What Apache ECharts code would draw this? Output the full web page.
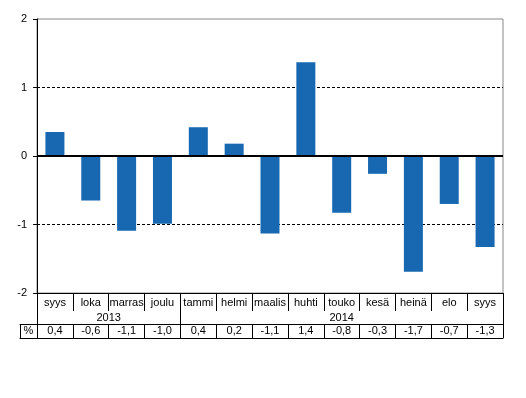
<!DOCTYPE html>
<html>
<head>
<meta charset="utf-8">
<script src="https://cdn.jsdelivr.net/npm/echarts@6/dist/echarts.min.js"></script>
<style>
  html, body { margin: 0; padding: 0; background: #fff; }
</style>
</head>
<body>
<div id="myChart" style="width: 526px; height: 398px;"></div>
<script>
  // kuukaudet ja muutos-%
  var months = ['syys', 'loka', 'marras', 'joulu', 'tammi', 'helmi', 'maalis', 'huhti', 'touko', 'kesä', 'heinä', 'elo', 'syys'];
  var values = [0.35, -0.65, -1.09, -0.99, 0.42, 0.18, -1.13, 1.37, -0.83, -0.26, -1.69, -0.70, -1.33];
  var tableLabels = ['0,4', '-0,6', '-1,1', '-1,0', '0,4', '0,2', '-1,1', '1,4', '-0,8', '-0,3', '-1,7', '-0,7', '-1,3'];
  var years = ['2013', '2014'];
  var yearStarts = [0, 4, 13];
  var yTicks = [-2, -1, 0, 1, 2];

  var font = 'Liberation Sans, Arial, sans-serif';
  var n = months.length;
  // %-solun leveys kategoriayksikköinä (17px / sarakkeen leveys)
  var pctW = 17 / (466 / n);

  var cellTicks = [-pctW];
  var cellLabels = [-pctW / 2];
  for (var i = 0; i <= n; i++) cellTicks.push(i);
  for (var j = 0; j < n; j++) cellLabels.push(j + 0.5);

  var yearLabels = [];
  for (var k = 0; k < years.length; k++) yearLabels.push((yearStarts[k] + yearStarts[k + 1]) / 2);

  var myChart = echarts.init(document.getElementById('myChart'));
  myChart.setOption({
    animation: false,
    textStyle: { fontFamily: font },
    grid: [
      { left: 37, right: 23, top: 19, height: 274, show: true, borderColor: '#888', borderWidth: 1 },
      { left: 20, right: 23, top: 324, height: 14 }
    ],
    xAxis: [
      {
        type: 'category',
        gridIndex: 0,
        data: months,
        position: 'bottom',
        axisLine: { onZero: false, lineStyle: { color: '#000', width: 1 } },
        axisTick: { show: true, interval: 0, length: 18, lineStyle: { color: '#000' } },
        axisLabel: { interval: 0, margin: 4, color: '#000', fontSize: 11, fontFamily: font }
      },
      {
        type: 'value',
        gridIndex: 0,
        min: 0,
        max: n,
        position: 'bottom',
        offset: 18,
        axisLine: { show: false, onZero: false },
        splitLine: { show: false },
        axisTick: { show: true, length: 13, customValues: yearStarts, lineStyle: { color: '#000' } },
        axisLabel: {
          margin: 1, color: '#000', fontSize: 11, fontFamily: font,
          customValues: yearLabels,
          formatter: function (v) { return v < 4 ? years[0] : years[1]; }
        }
      },
      {
        type: 'value',
        gridIndex: 1,
        min: -pctW,
        max: n,
        position: 'top',
        axisLine: { show: true, onZero: false, lineStyle: { color: '#000' } },
        axisTick: { show: false },
        axisLabel: { show: false },
        splitLine: { show: false }
      },
      {
        type: 'value',
        gridIndex: 1,
        min: -pctW,
        max: n,
        position: 'bottom',
        axisLine: { show: true, onZero: false, lineStyle: { color: '#000' } },
        axisTick: { show: true, inside: true, length: 14, customValues: cellTicks, lineStyle: { color: '#000' } },
        splitLine: { show: false },
        axisLabel: {
          inside: true, margin: 2, color: '#000', fontSize: 11, fontFamily: font,
          customValues: cellLabels,
          formatter: function (v) { return v < 0 ? '%' : tableLabels[Math.floor(v)]; }
        }
      }
    ],
    yAxis: [
      {
        type: 'value',
        gridIndex: 0,
        min: yTicks[0],
        max: yTicks[yTicks.length - 1],
        interval: 1,
        axisLine: { show: true, lineStyle: { color: '#000', width: 1 } },
        axisTick: { show: true, length: 4, lineStyle: { color: '#000' } },
        axisLabel: { margin: 10, color: '#000', fontSize: 11, fontFamily: font },
        splitLine: { show: true, showMinLine: false, showMaxLine: false, lineStyle: { color: '#000', type: [3, 2], width: 1 } }
      },
      {
        type: 'value',
        gridIndex: 1,
        show: false
      }
    ],
    series: [
      {
        type: 'bar',
        xAxisIndex: 0,
        yAxisIndex: 0,
        data: values,
        barWidth: 19,
        itemStyle: { color: '#1768b1' },
        markLine: {
          silent: true,
          symbol: 'none',
          label: { show: false },
          lineStyle: { color: '#000', type: 'solid', width: 2 },
          data: [{ yAxis: 0 }]
        }
      }
    ]
  });
</script>
</body>
</html>
